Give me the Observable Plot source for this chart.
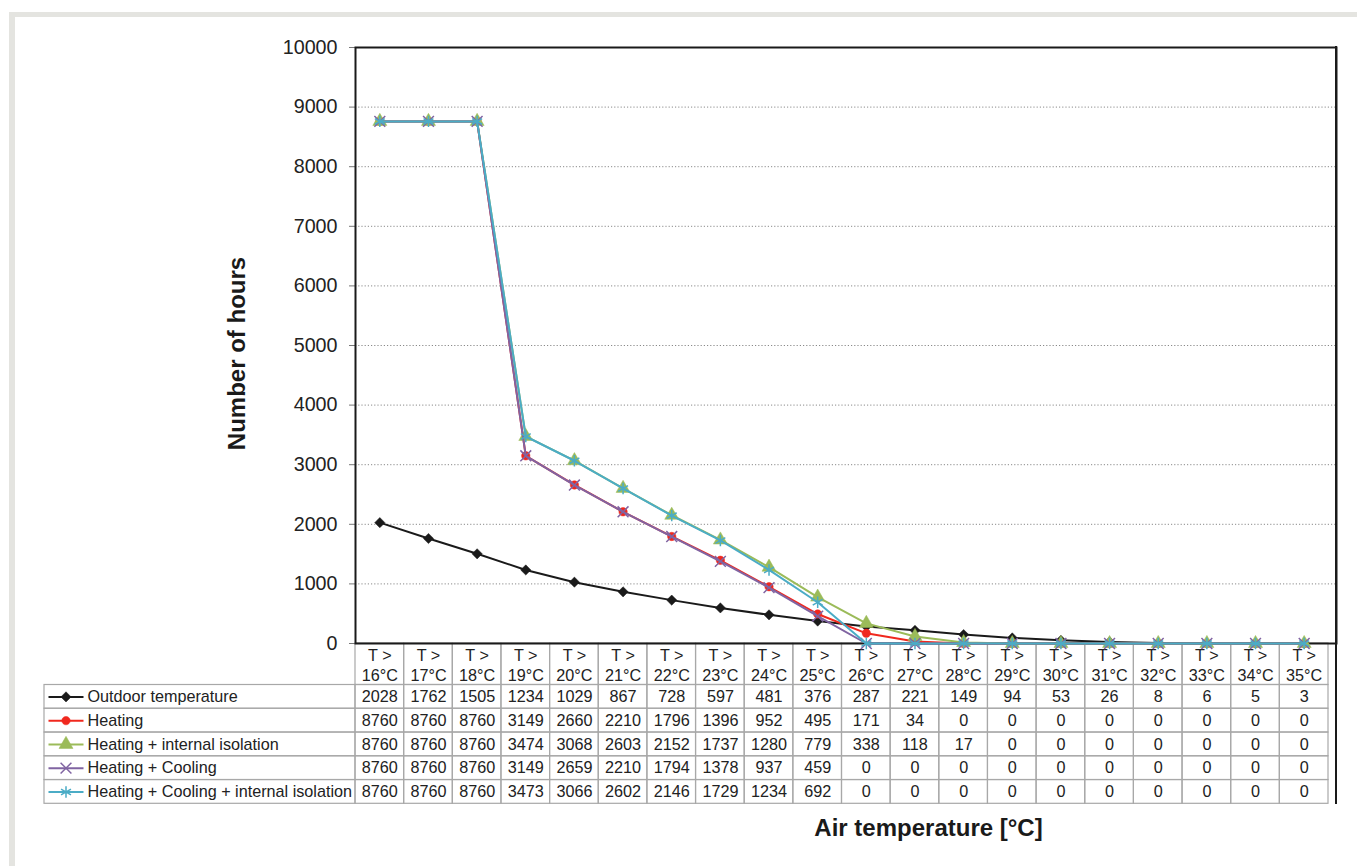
<!DOCTYPE html>
<html><head><meta charset="utf-8">
<script src="https://cdn.jsdelivr.net/npm/d3@7"></script>
<script src="https://cdn.jsdelivr.net/npm/@observablehq/plot@0.6"></script>
<style>
body{margin:0;background:#fff;}
#wrap{position:relative;width:1357px;height:866px;background:#fff;overflow:hidden;font-family:"Liberation Sans",Arial,sans-serif;}
#wrap svg{position:absolute;left:0;top:0;}
.gtop{position:absolute;left:9px;top:12px;width:1348px;height:5px;background:#e4e4e0}
.gleft{position:absolute;left:9px;top:12px;width:6px;height:854px;background:#e4e4e0}
.rline{position:absolute;left:1335px;top:46px;width:2px;height:758px;background:#1a1a1a}
</style></head><body>
<div id="wrap"><div class="gtop"></div><div class="gleft"></div></div>
<script>
// ---- data ----
const temps = ["16°C","17°C","18°C","19°C","20°C","21°C","22°C","23°C","24°C","25°C","26°C","27°C","28°C","29°C","30°C","31°C","32°C","33°C","34°C","35°C"];
const categories = temps.map(t => "T > " + t);
const seriesNames = ["Outdoor temperature","Heating","Heating + internal isolation","Heating + Cooling","Heating + Cooling + internal isolation"];
const outdoor = [2028,1762,1505,1234,1029,867,728,597,481,376,287,221,149,94,53,26,8,6,5,3];
const heating = [8760,8760,8760,3149,2660,2210,1796,1396,952,495,171,34,0,0,0,0,0,0,0,0];
const heatingIsolation = [8760,8760,8760,3474,3068,2603,2152,1737,1280,779,338,118,17,0,0,0,0,0,0,0];
const heatingCooling = [8760,8760,8760,3149,2659,2210,1794,1378,937,459,0,0,0,0,0,0,0,0,0,0];
const heatingCoolingIsolation = [8760,8760,8760,3473,3066,2602,2146,1729,1234,692,0,0,0,0,0,0,0,0,0,0];
const yTicks = [0,1000,2000,3000,4000,5000,6000,7000,8000,9000,10000];
const seriesValues = [outdoor, heating, heatingIsolation, heatingCooling, heatingCoolingIsolation];

// ---- styles ----
const styles = [
  {color:"#1a1a1a", symbol:"diamond2", filled:true, r:4.6},
  {color:"#f0281e", symbol:"circle", filled:true, r:4.2},
  {color:"#9bbb59", symbol:"triangle", filled:true, r:5.2},
  {color:"#8064a2", symbol:"times", filled:false, r:5},
  {color:"#4bacc6", symbol:"asterisk", filled:false, r:5.4}
];
const FONT = '"Liberation Sans", Arial, sans-serif';
const TFS = 16.2;
const W = 1357, H = 866;
const L = 355, R = 1336, T = 47, B = 643, TR = 1328, TB = 684.5, BB = 803.3, LL = 44;

const wrap = document.getElementById("wrap");
const baseStyle = {background:"transparent", fontFamily:FONT, color:"#222", overflow:"visible"};
const xBand = {type:"band", domain:categories, range:[L,TR], padding:0, round:false, axis:null};

// ---- header row ----
const header = Plot.plot({
  width:W, height:H, marginLeft:L, marginRight:W-TR, marginTop:B, marginBottom:H-TB,
  style:baseStyle,
  x:xBand,
  y:{type:"band", domain:["h"], padding:0, round:false, axis:null},
  marks:[
    Plot.cell(categories, {x:d=>d, y:()=>"h", fill:"none", stroke:"#a8a8a8", strokeWidth:1.2}),
    Plot.text(temps, {x:(d,i)=>categories[i], y:()=>"h", text:d=>"T >\n"+d, fontSize:TFS, lineHeight:1.24, fill:"#222"})
  ]
});

// ---- data table ----
const rows = [];
seriesNames.forEach((s, si) => seriesValues[si].forEach((v, i) => rows.push({series:s, cat:categories[i], value:v})));
const table = Plot.plot({
  width:W, height:H, marginLeft:L, marginRight:W-TR, marginTop:TB, marginBottom:H-BB,
  style:baseStyle,
  x:xBand,
  y:{type:"band", domain:seriesNames, padding:0, round:false, axis:null},
  marks:[
    Plot.cell(rows, {x:"cat", y:"series", fill:"none", stroke:"#a8a8a8", strokeWidth:1.2}),
    Plot.text(rows, {x:"cat", y:"series", text:d=>String(d.value), fontSize:TFS, fill:"#222"})
  ]
});

// ---- legend column ----
const hline = {draw(ctx){ ctx.moveTo(-17.5,0); ctx.lineTo(17.5,0); }};
const legend = Plot.plot({
  width:W, height:H, marginLeft:LL, marginRight:W-L, marginTop:TB, marginBottom:H-BB,
  style:baseStyle,
  x:{type:"band", domain:["legend"], padding:0, round:false, axis:null},
  y:{type:"band", domain:seriesNames, padding:0, round:false, axis:null},
  marks:[
    Plot.cell(seriesNames, {x:()=>"legend", y:d=>d, fill:"none", stroke:"#a8a8a8", strokeWidth:1.2}),
    Plot.dot(seriesNames, {y:d=>d, frameAnchor:"left", dx:21.5, symbol:hline, r:5, fill:"none",
      stroke:(d,i)=>styles[i].color, strokeWidth:2}),
    ...seriesNames.map((s,i) => Plot.dot([s], {y:d=>d, frameAnchor:"left", dx:21.5, symbol:styles[i].symbol,
      r:styles[i].r, fill:styles[i].filled ? styles[i].color : "none", stroke:styles[i].color,
      strokeWidth:styles[i].filled ? 0.5 : 1.5})),
    Plot.text(seriesNames, {y:d=>d, frameAnchor:"left", dx:43, textAnchor:"start", text:d=>d, fontSize:TFS, fill:"#222"})
  ]
});

// ---- main chart ----
const seriesMarks = [];
seriesNames.forEach((s, si) => {
  const data = seriesValues[si].map((v, i) => ({cat:categories[i], value:v}));
  const st = styles[si];
  seriesMarks.push(Plot.line(data, {x:"cat", y:"value", stroke:st.color, strokeWidth:2}));
  seriesMarks.push(Plot.dot(data, {x:"cat", y:"value", symbol:st.symbol, r:st.r,
    fill:st.filled ? st.color : "none", stroke:st.color, strokeWidth:st.filled ? 0.5 : 1.5}));
});
const main = Plot.plot({
  width:W, height:H, marginLeft:L, marginRight:W-R, marginTop:T, marginBottom:H-B,
  style:baseStyle,
  x:{type:"point", domain:categories, range:[L,TR], padding:0.5, round:false, axis:null},
  y:{domain:[0,10000], range:[B,T], axis:null},
  marks:[
    Plot.ruleY(yTicks.filter(d => d > 0 && d < 10000), {stroke:"#8a8a8a", strokeDasharray:"1.2,2", strokeWidth:1}),
    Plot.axisY({ticks:yTicks, tickFormat:()=>"", tickSize:6, label:null, stroke:"#777"}),
    Plot.axisY({ticks:yTicks, tickFormat:d3.format("d"), tickSize:0, tickPadding:18, fontSize:19.7, label:null, fill:"#222"}),
    Plot.frame({stroke:"#1a1a1a", strokeWidth:2}),
    ...seriesMarks,
    Plot.text(["Number of hours"], {frameAnchor:"left", dx:237-L, dy:353-(T+B)/2, rotate:-90, text:d=>d,
      textAnchor:"middle", lineAnchor:"middle", fontSize:24, fontWeight:"bold", fill:"#1a1a1a"}),
    Plot.text(["Air temperature [°C]"], {frameAnchor:"bottom", dx:928-(L+R)/2, dy:828-B, text:d=>d,
      textAnchor:"middle", lineAnchor:"middle", fontSize:24, fontWeight:"bold", fill:"#1a1a1a"})
  ]
});

wrap.appendChild(header);
wrap.appendChild(table);
wrap.appendChild(legend);
wrap.appendChild(main);
const rl = document.createElement("div"); rl.className = "rline"; wrap.appendChild(rl);
</script>
</body></html>
